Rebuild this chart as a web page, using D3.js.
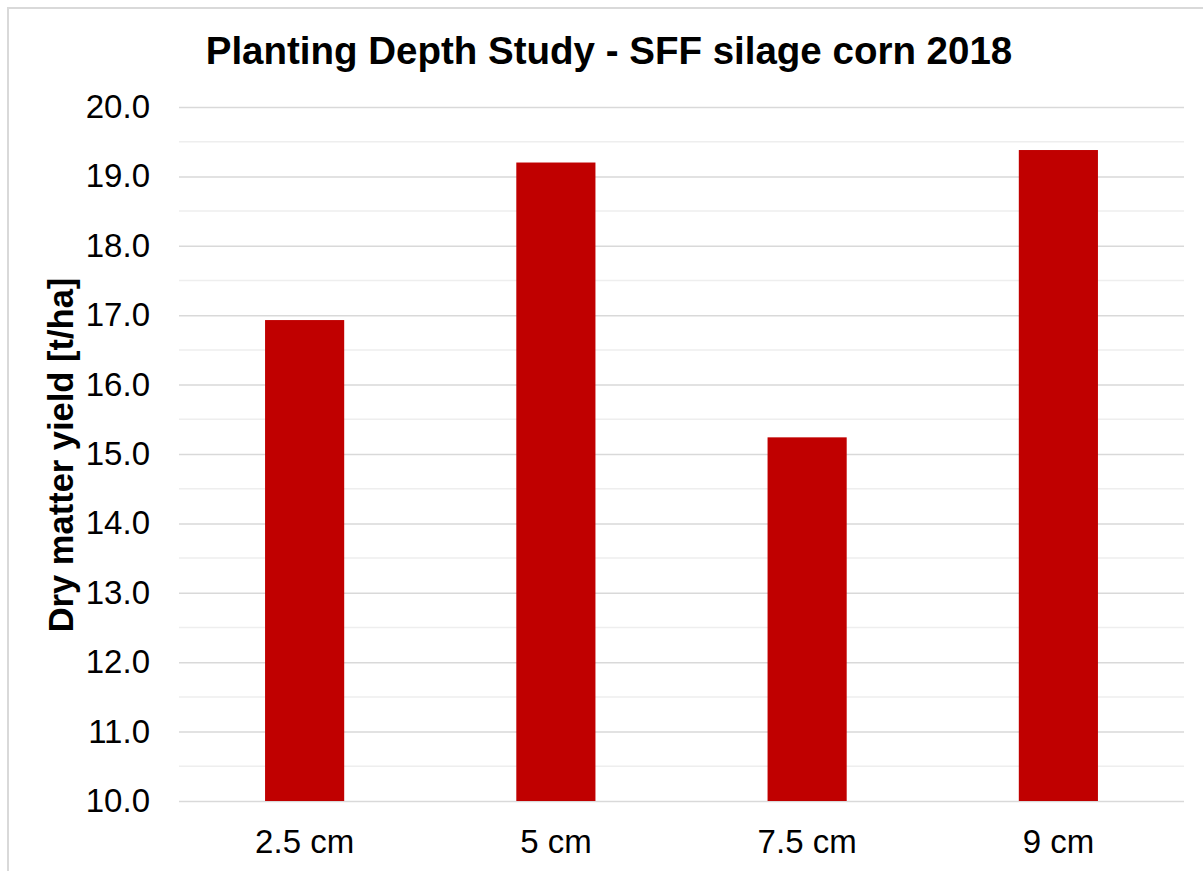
<!DOCTYPE html>
<html>
<head>
<meta charset="utf-8">
<script src="https://cdn.jsdelivr.net/npm/d3@7"></script>
<style>
  body { margin: 0; background: #fff; }
  text { font-family: "Liberation Sans", Arial, sans-serif; fill: #000; }
</style>
</head>
<body>
<div class="chart"></div>
<script>
const depths = ["2.5 cm", "5 cm", "7.5 cm", "9 cm"];
const yieldValues = [16.93, 19.20, 15.24, 19.38];
const yTicks = [10, 11, 12, 13, 14, 15, 16, 17, 18, 19, 20];
const minorTicks = [10.5, 11.5, 12.5, 13.5, 14.5, 15.5, 16.5, 17.5, 18.5, 19.5];
const chartTitle = "Planting Depth Study - SFF silage corn 2018";
const yTitle = "Dry matter yield [t/ha]";

const width = 1203, height = 871;
const margin = ({top: 107, right: 19, bottom: 70, left: 179});

const svg = d3.select(".chart").append("svg")
  .attr("width", width)
  .attr("height", height);

// outer chart border (right/bottom run off the picture)
svg.append("rect")
  .attr("x", 8).attr("y", 8)
  .attr("width", 1210).attr("height", 880)
  .attr("fill", "none")
  .attr("stroke", "#d9d9d9")
  .attr("stroke-width", 2);

const xScale = d3.scaleBand()
  .domain(depths)
  .range([margin.left, width - margin.right])
  .paddingInner(0.685)
  .paddingOuter(0.3425);

const yScale = d3.scaleLinear()
  .domain([10, 20])
  .range([height - margin.bottom, margin.top]);

// minor grid
svg.append("g")
  .selectAll("line")
  .data(minorTicks)
  .join("line")
  .attr("x1", margin.left).attr("x2", width - margin.right)
  .attr("y1", d => yScale(d)).attr("y2", d => yScale(d))
  .attr("stroke", "#eeeeee")
  .attr("stroke-width", 1.5);

// major grid + labels
const yAxis = d3.axisLeft(yScale)
  .tickValues(yTicks)
  .tickFormat(d3.format(".1f"))
  .tickSize(-(width - margin.left - margin.right))
  .tickPadding(29);
svg.append("g")
  .attr("class", "axis y-axis")
  .attr("transform", `translate(${margin.left},0)`)
  .call(yAxis)
  .call(g => g.select(".domain").remove())
  .call(g => g.selectAll(".tick line").attr("stroke", "#d9d9d9").attr("stroke-width", 1.5))
  .call(g => g.selectAll(".tick text")
    .attr("font-size", 33)
    .style("font-family", "'Liberation Sans', Arial, sans-serif")
    .attr("fill", "#000"));

// bars
svg.selectAll("rect.bar")
  .data(depths)
  .join("rect")
  .attr("class", "bar")
  .attr("x", d => xScale(d))
  .attr("width", xScale.bandwidth())
  .attr("y", (d, i) => yScale(yieldValues[i]))
  .attr("height", (d, i) => yScale(10) - yScale(yieldValues[i]))
  .attr("fill", "#c00000");

// x labels
const xAxis = d3.axisBottom(xScale).tickSize(0).tickPadding(29);
svg.append("g")
  .attr("class", "axis x-axis")
  .attr("transform", `translate(0,${height - margin.bottom})`)
  .call(xAxis)
  .call(g => g.select(".domain").remove())
  .call(g => g.selectAll(".tick text")
    .attr("font-size", 33)
    .style("font-family", "'Liberation Sans', Arial, sans-serif")
    .attr("fill", "#000"));

// title
svg.append("text")
  .attr("x", 609)
  .attr("y", 64)
  .attr("text-anchor", "middle")
  .attr("font-size", 38.5)
  .attr("font-weight", "bold")
  .text(chartTitle);

// y axis title
svg.append("text")
  .attr("transform", "translate(73,455) rotate(-90)")
  .attr("text-anchor", "middle")
  .attr("font-size", 34.5)
  .attr("font-weight", "bold")
  .text(yTitle);
</script>
</body>
</html>
